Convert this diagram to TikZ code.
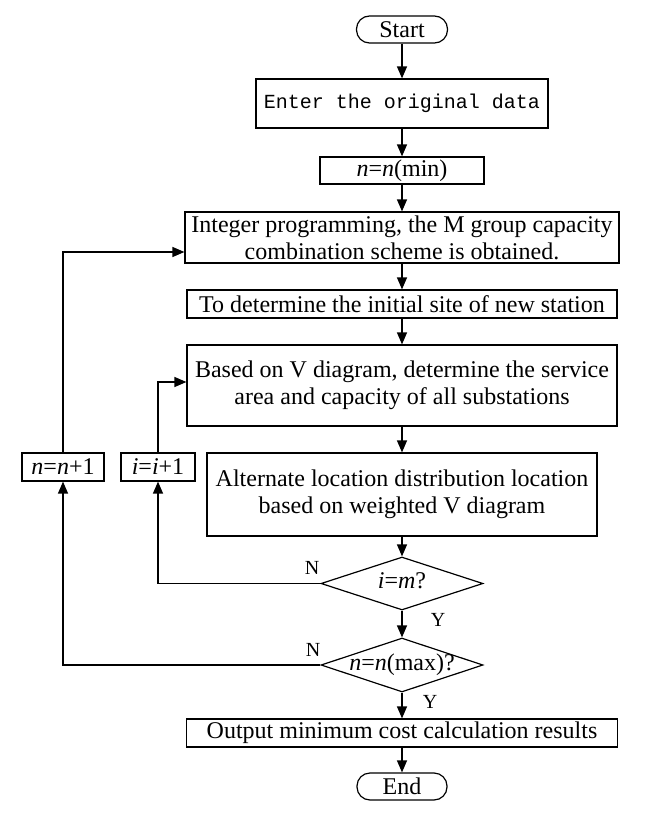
\documentclass[tikz,border=0pt]{standalone}
\usepackage{fontspec}
\setmainfont{Liberation Serif}
\setmonofont{Liberation Mono}
\usetikzlibrary{shapes.geometric,arrows.meta}

\tikzset{
  box/.style={draw, line width=1.2pt, inner sep=0pt, align=center,
    font=\fontsize{24}{27}\selectfont},
  term/.style={box, rounded corners=13pt},
  decide/.style={draw, diamond, aspect=3, line width=1.2pt, inner sep=0pt,
    text height=12pt, text depth=2pt, font=\fontsize{24}{27}\selectfont},
  flow/.style={line width=1.3pt, -{Triangle[length=12pt,width=10pt]}},
  yesno/.style={inner sep=0pt, font=\fontsize{20}{24}\selectfont}
}

\begin{document}
\begin{tikzpicture}[x=1pt, y=-1pt]
  % Fix the page to the size of the picture
  \useasboundingbox (0,0) rectangle (646,818);

  % Main column of steps
  \node[term, minimum width=91pt, minimum height=27pt] (start) at (402,29.5) {Start};
  \node[box, minimum width=292pt, minimum height=49pt, font=\fontsize{20}{24}\ttfamily] (enter) at (402,103.5) {Enter the original data};
  \node[box, minimum width=164pt, minimum height=27pt] (nmin) at (402,170.5) {\textit{n}=\textit{n}(min)};
  \node[box, minimum width=434pt, minimum height=51pt] (integer) at (402,237.5) {Integer programming, the M group capacity\\combination scheme is obtained.};
  \node[box, minimum width=430pt, minimum height=28pt] (site) at (402,304) {To determine the initial site of new station};
  \node[box, minimum width=430pt, minimum height=81pt] (vdiag) at (402,385.5) {Based on V diagram, determine the service\\area and capacity of all substations};
  \node[box, minimum width=390pt, minimum height=83pt] (alt) at (402,494.5) {Alternate location distribution location\\based on weighted V diagram};
  \node[decide, minimum width=162pt, minimum height=53pt] (dimm) at (402,583.5) {\textit{i}=\textit{m}?};
  \node[decide, minimum width=162pt, minimum height=54pt] (dnmax) at (402,665) {\textit{n}=\textit{n}(max)?};
  \node[box, minimum width=431pt, minimum height=28pt] (output) at (402,733) {Output minimum cost calculation results};
  \node[term, minimum width=90pt, minimum height=27pt] (end) at (402,786.5) {End};

  % Counters on the left
  \node[box, minimum width=82pt, minimum height=28pt] (ninc) at (63,467) {\textit{n}=\textit{n}+1};
  \node[box, minimum width=74pt, minimum height=28pt] (iinc) at (158,467) {\textit{i}=\textit{i}+1};

  % Branch labels
  \node[yesno] (ni) at (312,568) {N};
  \node[yesno] (yi) at (438,620) {Y};
  \node[yesno] (nn) at (313,650) {N};
  \node[yesno] (yn) at (430,702) {Y};

  % Arrows down the column
  \draw[flow] (start) -- (enter);
  \draw[flow] (enter) -- (nmin);
  \draw[flow] (nmin) -- (integer);
  \draw[flow] (integer) -- (site);
  \draw[flow] (site) -- (vdiag);
  \draw[flow] (vdiag) -- (alt);
  \draw[flow] (alt) -- (dimm);
  \draw[flow] (dimm) -- (dnmax);
  \draw[flow] (dnmax) -- (output);
  \draw[flow] (output) -- (end);

  % Loops back
  \draw[flow] (dimm.west) -| (iinc.south);
  \draw[flow] (iinc.north) |- ([yshift=3.5pt]vdiag.west);
  \draw[flow] (dnmax.west) -| (ninc.south);
  \draw[flow] (ninc.north) |- ([yshift=-14.5pt]integer.west);
\end{tikzpicture}
\end{document}
